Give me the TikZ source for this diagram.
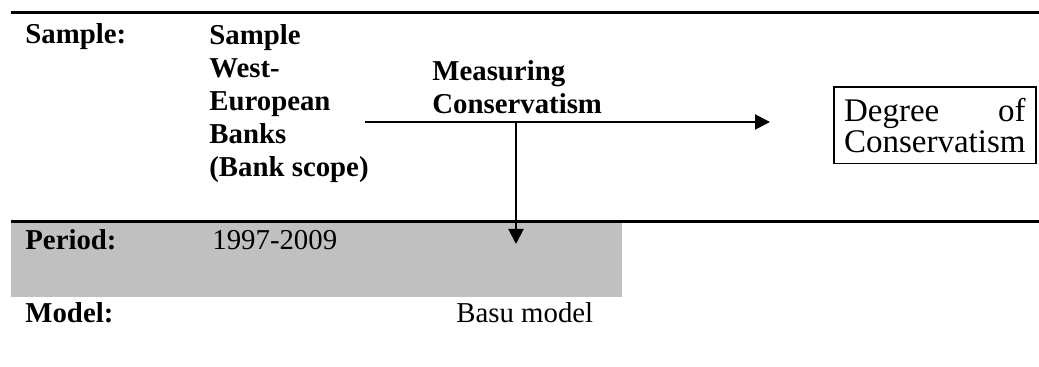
\documentclass[tikz,border=0pt]{standalone}
\usepackage{fontspec}
\setmainfont{Liberation Serif}
\usetikzlibrary{arrows.meta}
\definecolor{bandgray}{RGB}{192,192,192}
\tikzset{%
  rowlabel/.style={font=\bfseries, anchor=base west, inner sep=0pt},
  rowtext/.style={anchor=base west, inner sep=0pt},
  boldstack/.style={font=\bfseries, align=left, anchor=north west, inner sep=0pt},
  tablerule/.style={line width=1.5pt},
  flowarrow/.style={->, line width=1pt, >={Triangle[length=7.5pt,width=7.5pt]}},
  resultbox/.style={draw, line width=0.8pt, minimum width=101pt, inner sep=0pt, anchor=north west}
}

\begin{document}
\fontsize{14.4}{16.5}\selectfont
\begin{tikzpicture}[x=0.5pt, y=-0.5pt]
  \useasboundingbox (0,0) rectangle (1039,367);
  % shaded period row and table rules
  \fill[bandgray] (11,222) rectangle (622,297);
  \draw[tablerule] (11,13) -- (1039,13);
  \draw[tablerule] (11,222) -- (1039,222);

  \node[rowlabel] (sample) at (25,44) {Sample:};
  \node[boldstack] (banks) at (209,24) {Sample\\West-\\European\\Banks\\(Bank scope)};
  \node[boldstack] (measuring) at (432,60) {Measuring\\Conservatism};
  \node[resultbox, font=\fontsize{16.5}{14.5}\selectfont] (degree) at (833,86)
    {\begin{tabular}{@{}l@{}}\rule{0pt}{17.5pt}Degree\hfill of\\Conservatism\rule[-5.5pt]{0pt}{0pt}\end{tabular}};

  \coordinate (arrowstart) at (365,122);
  \coordinate (split) at (516,122);
  \coordinate (arrowend) at (770,122);
  \coordinate (periodtip) at (516,244);
  \draw[flowarrow] (arrowstart) -- (arrowend);
  \draw[flowarrow] (split) -- (periodtip);

  \node[rowlabel] (period) at (25,250) {Period:};
  \node[rowtext] (years) at (212,250) {1997-2009};
  \node[rowlabel] (model) at (25,323) {Model:};
  \node[rowtext] (basu) at (456,323) {Basu model};
\end{tikzpicture}
\end{document}
